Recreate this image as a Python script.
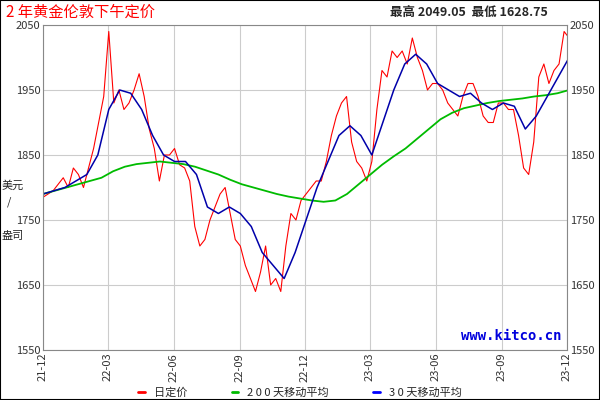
import numpy as np, pandas as pd, seaborn as sns, matplotlib
matplotlib.use("Agg")
import matplotlib.pyplot as plt
import matplotlib.dates as mdates

sns.set_style("white")
plt.rcParams['font.family'] = ['Noto Sans CJK SC', 'DejaVu Sans']

price = [1785,1790,1795,1805, 1815,1800,1830,1820, 1800,1830,1860,1900,
         1940,2040,1930,1950,1920, 1930,1950,1975,1940, 1890,1860,1810,1850,
         1850,1860,1835,1830, 1810,1740,1710,1720,1750, 1770,1790,1800,1760,
         1720,1710,1680,1660,1640, 1670,1710,1650,1660, 1640,1710,1760,1750,1780,
         1790,1800,1810,1810, 1840,1880,1910,1930, 1940,1870,1840,1830,
         1810,1840,1920,1980,1970, 2010,2000,2010,1990, 2030,2000,1980,1950,1960,
         1960,1950,1930,1920, 1910,1940,1960,1960, 1940,1910,1900,1900,1930,
         1930,1920,1920,1880, 1830,1820,1870,1970, 1990,1960,1980,1990, 2040,2030]
price_dates = pd.date_range("2021-12-01", "2023-12-04", periods=len(price))

ma30 = [1790,1795,1800,1810,1820,1850,1920,1950,1945,1920,1880,1850,1840,1840,1820,1770,
        1760,1770,1760,1740,1700,1680,1660,1700,1750,1800,1840,1880,1895,1880,1850,1900,
        1950,1990,2005,1990,1960,1950,1940,1945,1930,1920,1930,1925,1890,1910,1940,1970,2000]
ma30_dates = pd.date_range("2021-12-01", "2023-12-04", periods=len(ma30))

ma200 = [1790,1795,1800,1805,1810,1815,1825,1832,1836,1838,1840,1838,1836,1832,1826,1820,
         1812,1805,1800,1795,1790,1786,1783,1780,1778,1780,1790,1805,1820,1835,1848,1860,
         1875,1890,1905,1915,1922,1926,1930,1933,1935,1937,1940,1942,1945,1950]
ma200_dates = pd.date_range("2021-12-01", "2023-12-04", periods=len(ma200))

fig = plt.figure(figsize=(6, 4), dpi=100)
ax = fig.add_axes([43/600, 1-350/400, 524/600, 325/400])
sns.lineplot(x=price_dates, y=price, ax=ax, color="red", lw=0.8)
sns.lineplot(x=ma200_dates, y=ma200, ax=ax, color="#00bb00", lw=1.3)
sns.lineplot(x=ma30_dates, y=ma30, ax=ax, color="#0000aa", lw=1.1)
ax.set_xlabel("")
ax.set_ylabel("")

ax.set_xlim(pd.Timestamp("2021-12-01"), pd.Timestamp("2023-12-01"))
ax.set_ylim(1550, 2050)
ax.set_yticks([1550,1650,1750,1850,1950,2050])
ax.tick_params(labelsize=8, right=True, labelright=True, length=0, pad=2, colors="#333")
ticks = pd.date_range("2021-12-01", "2023-12-01", freq="3MS")
ax.set_xticks(ticks)
ax.xaxis.set_major_formatter(mdates.DateFormatter("%y-%m"))
for l in ax.get_xticklabels():
    l.set_rotation(90)
ax.grid(True, color="#cccccc", lw=0.8)
for s in ax.spines.values():
    s.set_color("#888")
ax.text(0.99, 0.02, "www.kitco.cn", transform=ax.transAxes, ha="right", va="bottom",
        color="#0000dd", fontsize=10, family="DejaVu Sans Mono", fontweight="bold")

fig.text(0.01, 0.99, "2 年黄金伦敦下午定价", color="red", fontsize=11, va="top")
fig.text(0.65, 0.985, "最高 2049.05  最低 1628.75", fontsize=9, va="top", fontweight="bold")
fig.text(0.003, 0.535, "美元", fontsize=8, va="center", ha="left")
fig.text(0.012, 0.495, "/", fontsize=8, va="center", ha="left")
fig.text(0.003, 0.41, "盎司", fontsize=8, va="center", ha="left")

from matplotlib.lines import Line2D
h = [Line2D([], [], color=c, lw=2) for c in ["red", "#00bb00", "#0000ff"]]
fig.legend(h, ["日定价", "2 0 0 天移动平均", "3 0 天移动平均"], loc="lower center",
           bbox_to_anchor=(0.5, -0.02), ncol=3, frameon=False, fontsize=8,
           handlelength=0.6, columnspacing=4)
fig.patches.append(plt.Rectangle((0, 0), 1, 1, transform=fig.transFigure, fill=False, ec="black", lw=1.5))
fig.savefig("out.png")
